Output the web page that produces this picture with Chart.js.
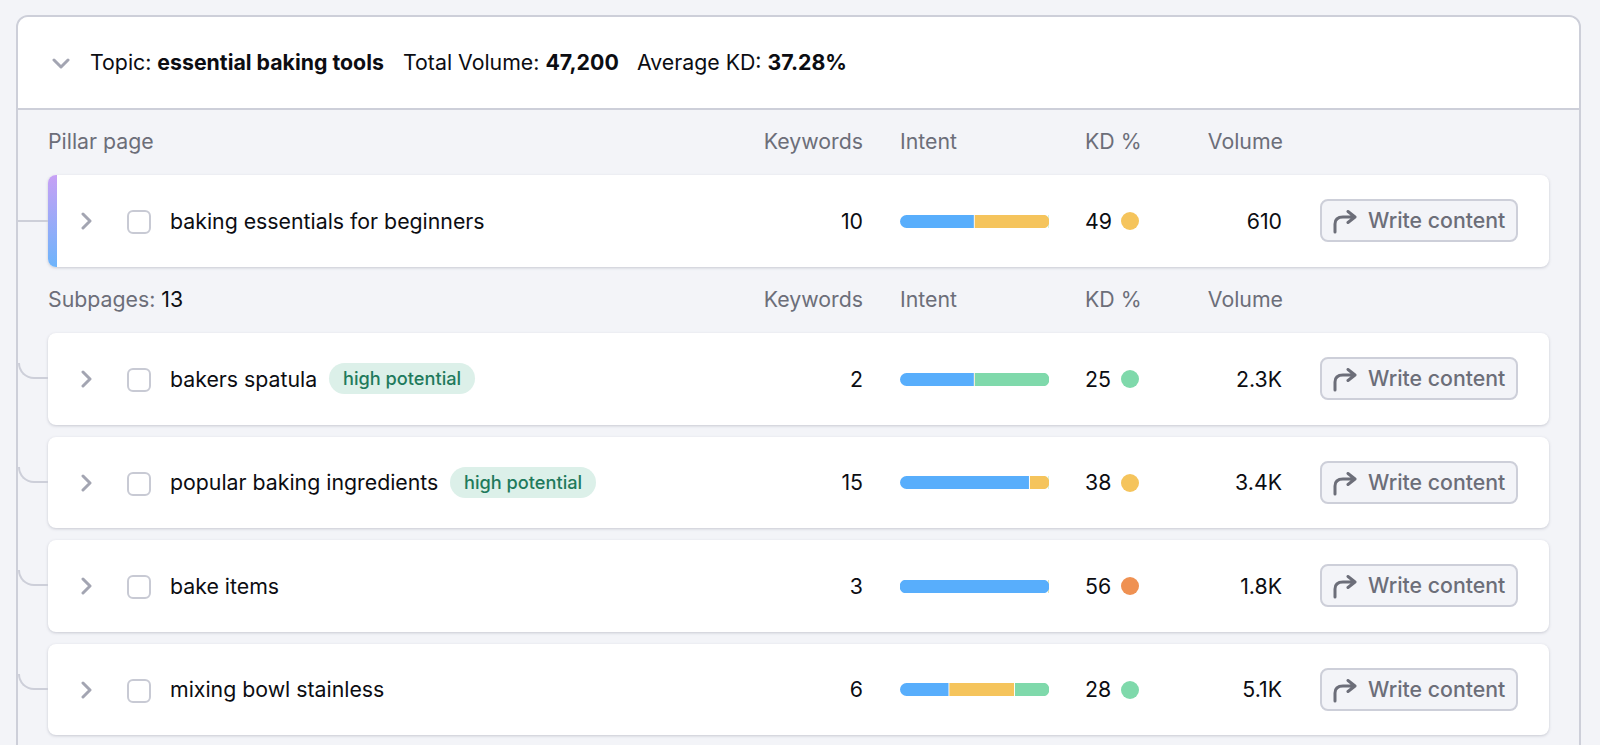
<!DOCTYPE html>
<html>
<head>
<meta charset="utf-8">
<title>essential baking tools</title>
<script src="https://cdn.jsdelivr.net/npm/chart.js@4"></script>
<style>
  * { box-sizing: border-box; }
  html, body { margin: 0; height: 745px; overflow: hidden; background: #f3f4f8; }
  body { position: relative; width: 1600px; font-family: Inter, sans-serif; font-size: 21.3px; color: #0c0d12; }

  .card { position: absolute; left: 16px; top: 15px; width: 1565px; height: 800px; border: 2px solid #cdcfd9; border-radius: 12px; }
  .top { position: absolute; left: 0; top: 0; right: 0; height: 93px; background: #fff; border-bottom: 2px solid #cdcfd9; border-radius: 10px 10px 0 0; }
  .top span { position: absolute; top: 33px; line-height: 24px; white-space: nowrap; }
  .top b { font-weight: 700; }
  .top svg { position: absolute; left: 34px; top: 41px; }

  .label { position: absolute; line-height: 24px; color: #6c6e79; white-space: nowrap; }
  .num { text-align: right; }

  .row { position: absolute; left: 48px; width: 1501px; height: 91.5px; background: #fff; border-radius: 8px; box-shadow: 0 1px 3px rgba(90, 94, 115, .28); }
  .row > * { position: absolute; }
  .strip { left: 0; top: 0; bottom: 0; width: 9px; border-radius: 8px 0 0 8px; background: linear-gradient(#c7a0f5, #6db4fb); }
  .link { left: -30px; width: 30px; height: 16px; top: 30px; border-left: 2px solid #cdcfd9; border-bottom: 2px solid #cdcfd9; border-bottom-left-radius: 16px; }
  .link.straight { height: 0; top: 45px; border-left: 0; border-bottom-left-radius: 0; }
  .chev { left: 33px; top: 37px; }
  .check { left: 79px; top: 35px; width: 24px; height: 24px; border: 2px solid #c8cad4; border-radius: 6px; background: #fff; }
  .name { left: 122px; top: 33.5px; line-height: 24px; white-space: nowrap; }
  .pill { top: 30px; height: 31px; line-height: 30px; padding: 0 14px; border-radius: 16px; background: #dcf0e9; color: #1f7a5c; font-size: 18.2px; font-weight: 500; white-space: nowrap; }
  .kw { right: 686px; top: 33.5px; line-height: 24px; }
  .intent { left: 851.5px; top: 39.5px; width: 149px; height: 13px; }
  .intent canvas { display: block; }
  .kd { left: 1037px; top: 33.5px; line-height: 24px; }
  .dot { left: 1073px; top: 37px; width: 18px; height: 18px; border-radius: 50%; }
  .vol { right: 267px; top: 33.5px; line-height: 24px; }
  .btn { left: 1272px; top: 24px; width: 198px; height: 43px; background: #f3f4f8; border: 2px solid #cdcfd9; border-radius: 8px; color: #6c6e79; font-weight: 500; line-height: 39px; padding-left: 46px; white-space: nowrap; }
  .btn svg { position: absolute; left: 10px; top: 9px; }
</style>
</head>
<body>

<div class="card">
  <div class="top">
    <svg width="18" height="12" viewBox="0 0 18 12"><path d="M2 2 L9 9 L16 2" fill="none" stroke="#a3a5b2" stroke-width="3" stroke-linecap="round" stroke-linejoin="round"/></svg>
    <span style="left:72px">Topic: <b>essential baking tools</b></span>
    <span style="left:385px">Total Volume: <b>47,200</b></span>
    <span style="left:619px">Average KD: <b>37.28%</b></span>
  </div>
</div>

<div id="rows"></div>

<script>
// Valeurs
const pages = ['baking essentials for beginners', 'bakers spatula', 'popular baking ingredients', 'bake items', 'mixing bowl stainless'];
const keywords = [10, 2, 15, 3, 6];
const kdValues = [49, 25, 38, 56, 28];
const volumes = ['610', '2.3K', '3.4K', '1.8K', '5.1K'];
const potential = [false, true, true, false, false];

const informational = [50, 50, 87, 100, 33];
const commercial = [50, 0, 13, 0, 44];
const transactional = [0, 50, 0, 0, 23];

const columnTitles = ['Keywords', 'Intent', 'KD %', 'Volume'];
const subpagesCount = 13;

const BLUE = '#58aefc';
const YELLOW = '#f5c45c';
const GREEN = '#7fd9ab';
const ORANGE = '#ef9152';

// Haut de chaque ligne
const rowTops = [175, 333, 436.5, 540, 643.5];

function kdColor(kd) {
  if (kd < 30) return GREEN;
  if (kd < 50) return YELLOW;
  return ORANGE;
}

function columnHeader(top, firstLabel) {
  const html = [];
  html.push(`<div class="label" style="left:48px;top:${top}px">${firstLabel}</div>`);
  html.push(`<div class="label num" style="right:737px;top:${top}px">${columnTitles[0]}</div>`);
  html.push(`<div class="label" style="left:900px;top:${top}px">${columnTitles[1]}</div>`);
  html.push(`<div class="label" style="left:1085px;top:${top}px">${columnTitles[2]}</div>`);
  html.push(`<div class="label num" style="right:317px;top:${top}px">${columnTitles[3]}</div>`);
  return html.join('');
}

function rowHtml(i) {
  const isPillar = i === 0;
  const nameWidth = { 1: 281, 2: 402 };
  let html = `<div class="row" style="top:${rowTops[i]}px">`;
  html += isPillar ? '<div class="strip"></div><div class="link straight"></div>' : '<div class="link"></div>';
  html += '<svg class="chev" width="12" height="18" viewBox="0 0 12 18"><path d="M2 2 L9 9 L2 16" fill="none" stroke="#a3a5b2" stroke-width="3" stroke-linecap="round" stroke-linejoin="round"/></svg>';
  html += '<div class="check"></div>';
  html += `<div class="name">${pages[i]}</div>`;
  if (potential[i]) html += `<div class="pill" style="left:${nameWidth[i]}px">high potential</div>`;
  html += `<div class="kw">${keywords[i]}</div>`;
  html += `<div class="intent"><canvas id="intent${i}"></canvas></div>`;
  html += `<div class="kd">${kdValues[i]}</div>`;
  html += `<div class="dot" style="background:${kdColor(kdValues[i])}"></div>`;
  html += `<div class="vol">${volumes[i]}</div>`;
  html += '<div class="btn"><svg width="26" height="24" viewBox="0 0 26 24"><path d="M3 22 V14 Q3 7 11 7 H22 M16 1.5 L23 7 L16 12.5" fill="none" stroke="#6c6e79" stroke-width="3" stroke-linecap="round" stroke-linejoin="round"/></svg>Write content</div>';
  html += '</div>';
  return html;
}

// Barre d'intention empilée d'une ligne
function createIntentChart(i) {
  const series = [informational, commercial, transactional];
  const colors = [BLUE, YELLOW, GREEN];
  const shown = series.map((s, idx) => (s[i] > 0 ? idx : -1)).filter(idx => idx >= 0);
  const first = shown[0];
  const last = shown[shown.length - 1];

  return new Chart(document.getElementById('intent' + i), {
    type: 'bar',
    data: {
      labels: [pages[i]],
      datasets: series.map((s, idx) => ({
        label: ['Informational', 'Commercial', 'Transactional'][idx],
        data: [s[i]],
        backgroundColor: colors[idx],
        borderColor: '#ffffff',
        borderWidth: { right: idx === last ? 0 : 1 },
        borderSkipped: false,
        borderRadius: {
          topLeft: idx === first ? 7 : 0,
          bottomLeft: idx === first ? 7 : 0,
          topRight: idx === last ? 7 : 0,
          bottomRight: idx === last ? 7 : 0
        },
        barPercentage: 1,
        categoryPercentage: 1
      }))
    },
    options: {
      indexAxis: 'y',
      responsive: true,
      maintainAspectRatio: false,
      animation: false,
      layout: { padding: 0 },
      plugins: { legend: { display: false }, tooltip: { enabled: false } },
      scales: {
        x: { display: false, stacked: true, min: 0, max: 100 },
        y: { display: false, stacked: true }
      }
    }
  });
}

const parts = [columnHeader(129, 'Pillar page'), columnHeader(287, `Subpages: <span style="color:#0c0d12">${subpagesCount}</span>`)];
pages.forEach((p, i) => parts.push(rowHtml(i)));
document.getElementById('rows').innerHTML = parts.join('');

pages.forEach((p, i) => createIntentChart(i));
</script>
</body>
</html>
